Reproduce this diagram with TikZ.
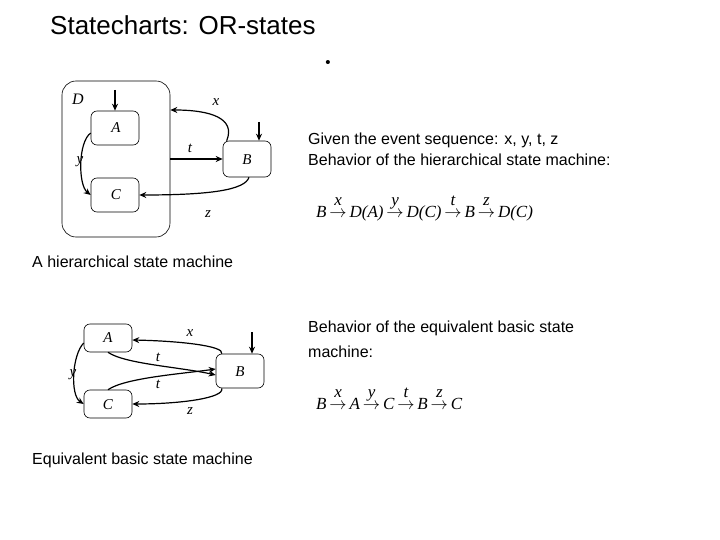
\documentclass[tikz,border=0pt]{standalone}
\usepackage{fontspec}
\setmainfont{Liberation Serif}
\newfontfamily\arial{Liberation Sans}
\usetikzlibrary{arrows.meta}
\begin{document}
\begin{tikzpicture}[x=1pt,y=-1pt,
 st/.style={draw,rounded corners=6pt,line width=0.6pt},
 lab/.style={font=\fontsize{15}{15}\selectfont\itshape,inner sep=0},
 tr/.style={line width=1.2pt,-{Stealth[length=7pt,width=6pt]}},
 txt/.style={font=\arial\fontsize{16}{19}\selectfont,anchor=west,inner sep=0},
 frm/.style={anchor=west,inner sep=0,font=\fontsize{17}{17}\selectfont\itshape}]
\useasboundingbox (0,0) rectangle (720,540);
\newcommand\tto[1]{\ensuremath{\,\mathrel{\mathop{\rightarrow}\limits^{\raisebox{4pt}{\textit{#1}}}}\,}}
\node[font=\arial\fontsize{26}{26}\selectfont,anchor=west,inner sep=0] (title) at (50,25) {Statecharts: OR-states};
\node[font=\arial\fontsize{15}{15}\selectfont,inner sep=0] (bul) at (328,64) {\textbullet};
% top diagram
\node[st,rounded corners=14pt,minimum width=108pt,minimum height=156pt] (D) at (116,159) {};
\node[lab,font=\fontsize{16}{16}\selectfont\itshape] (Dl) at (78,99) {D};
\node[st,minimum width=48pt,minimum height=34pt] (A) at (115,128) {};
\node[lab] (Al) at (116,128) {A};
\node[st,minimum width=48pt,minimum height=34pt] (C) at (115,195) {};
\node[lab] (Cl) at (116,195) {C};
\node[st,minimum width=48pt,minimum height=36pt] (B) at (247,159) {};
\node[lab] (Bl) at (247,160) {B};
\coordinate (ia) at (115,90); \coordinate (ib) at (259,122);
\coordinate (dx) at (170,110); \coordinate (dt) at (170,159);
\draw[tr] (ia) -- (A.north);
\draw[tr] (ib) -- (B.north-|ib);
\draw[tr] ([xshift=4pt]B.north west) .. controls (236,118) and (210,110) .. (D.east|-dx);
\draw[tr] (D.east|-dt) -- (B.west);
\draw[tr] ([xshift=2pt]B.south) .. controls (245,190) and (210,195) .. (C.east);
\draw[tr] ([yshift=-5pt]A.west) .. controls (78,142) and (78,185) .. (C.west);
\node[lab] (x1) at (216,102) {x};
\node[lab] (t1) at (190,148) {t};
\node[lab] (z1) at (208,214) {z};
\node[lab] (y1) at (80,162) {y};
\node[txt] (cap1) at (32,262) {A hierarchical state machine};
\node[txt] (g1) at (308,140) {Given the event sequence: x, y, t, z};
\node[txt] (g2) at (308,160) {Behavior of the hierarchical state machine:};
\node[frm] (f1) at (316,208) {B\tto{x}D(A)\tto{y}D(C)\tto{t}B\tto{z}D(C)};
% bottom diagram
\node[st,minimum width=48pt,minimum height=28pt] (A2) at (108,338) {};
\node[lab] (A2l) at (108,338) {A};
\node[st,minimum width=48pt,minimum height=28pt] (C2) at (108,404) {};
\node[lab] (C2l) at (108,405) {C};
\node[st,minimum width=48pt,minimum height=34pt] (B2) at (240,371) {};
\node[lab] (B2l) at (240,372) {B};
\coordinate (ib2) at (252,332);
\draw[tr] (ib2) -- (B2.north-|ib2);
\draw[tr] ([xshift=6pt]B2.north west) .. controls (225,346) and (180,341) .. ([yshift=-2pt]A2.east);
\draw[tr] (A2.south) .. controls (125,364) and (180,367) .. ([yshift=-4pt]B2.west);
\draw[tr] (C2.north) .. controls (125,378) and (180,374) .. ([yshift=2pt]B2.west);
\draw[tr] ([xshift=6pt]B2.south west) .. controls (225,398) and (180,404) .. (C2.east);
\draw[tr] ([yshift=-5pt]A2.west) .. controls (72,355) and (70,395) .. (C2.west);
\node[lab] (x2) at (190,333) {x};
\node[lab] (t2) at (158,357) {t};
\node[lab] (t3) at (158,384) {t};
\node[lab] (y2) at (73,375) {y};
\node[lab] (z2) at (190,411) {z};
\node[txt] (cap2) at (32,460) {Equivalent basic state machine};
\node[txt] (h1) at (308,328) {Behavior of the equivalent basic state};
\node[txt] (h2) at (308,352) {machine:};
\node[frm] (f2) at (316,398) {B\tto{x}A\tto{y}C\tto{t}B\tto{z}C};
\end{tikzpicture}
\end{document}
